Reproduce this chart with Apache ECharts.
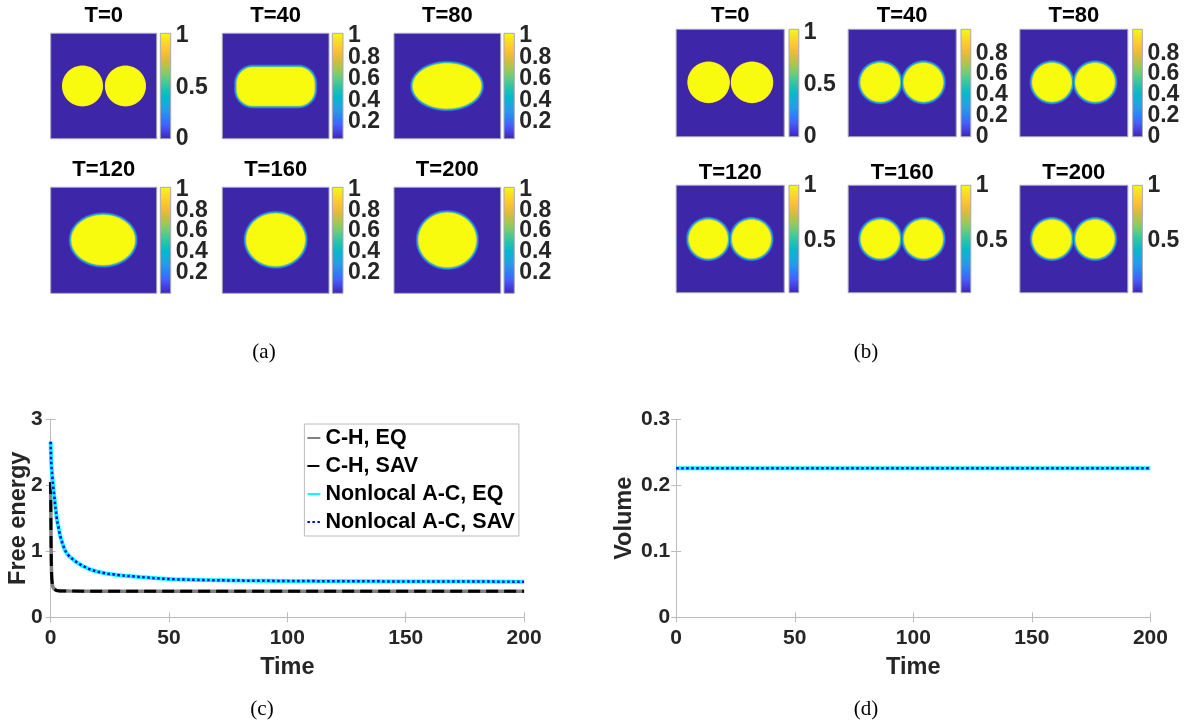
<!DOCTYPE html>
<html><head><meta charset="utf-8">
<script src="https://cdn.jsdelivr.net/npm/echarts@6/dist/echarts.min.js"></script>
<style>html,body{margin:0;padding:0;background:#fff}#c{width:1186px;height:726px}</style>
</head><body><div id="c"></div><script>
// ---------------- DATA ----------------
const panelTitles = ['T=0', 'T=40', 'T=80', 'T=120', 'T=160', 'T=200'];
// droplets per snapshot: [cx, cy, rx, ry, cornerRadius] (unit square, cornerRadius -1 = ellipse)
const dropletsA = [
  [[0.300, 0.500, 0.190, 0.190, -1], [0.705, 0.500, 0.190, 0.190, -1]],
  [[0.500, 0.495, 0.372, 0.190, 0.16]],
  [[0.497, 0.500, 0.328, 0.221, -1]],
  [[0.495, 0.503, 0.307, 0.243, -1]],
  [[0.500, 0.505, 0.283, 0.255, -1]],
  [[0.500, 0.503, 0.278, 0.264, -1]]
];
const dropletsB = [
  [[0.300, 0.506, 0.193, 0.190, -1], [0.702, 0.506, 0.193, 0.190, -1]],
  [[0.297, 0.506, 0.190, 0.188, -1], [0.697, 0.506, 0.190, 0.188, -1]],
  [[0.297, 0.506, 0.190, 0.188, -1], [0.697, 0.506, 0.190, 0.188, -1]],
  [[0.297, 0.500, 0.188, 0.188, -1], [0.697, 0.500, 0.188, 0.188, -1]],
  [[0.297, 0.500, 0.188, 0.188, -1], [0.697, 0.500, 0.188, 0.188, -1]],
  [[0.297, 0.500, 0.188, 0.188, -1], [0.697, 0.500, 0.188, 0.188, -1]]
];
const diffuseA = [false, true, true, true, true, true];
const diffuseB = [false, true, true, true, true, true];
const cbRangeA = [[0, 1.026], [0.04, 1.025], [0.04, 1.025], [0.003, 1.02], [0.003, 1.02], [0.003, 1.02]];
const cbTicksA = [[0, 0.5, 1], [0.2, 0.4, 0.6, 0.8, 1], [0.2, 0.4, 0.6, 0.8, 1], [0.2, 0.4, 0.6, 0.8, 1], [0.2, 0.4, 0.6, 0.8, 1], [0.2, 0.4, 0.6, 0.8, 1]];
const cbRangeB = [[0, 1.036], [0, 1.03], [0, 1.03], [0.024, 1.006], [0.024, 1.006], [0.024, 1.006]];
const cbTicksB = [[0, 0.5, 1], [0, 0.2, 0.4, 0.6, 0.8], [0, 0.2, 0.4, 0.6, 0.8], [0.5, 1], [0.5, 1], [0.5, 1]];

const feTime = [0, 0.2, 0.5, 1, 1.5, 2, 2.6, 3, 4, 5, 6, 7, 8, 10, 12, 14, 17, 20, 24, 30, 38, 45, 52, 65, 80, 100, 125, 150, 175, 200];
const feNonlocalEQ = [2.66, 2.40, 2.22, 2.02, 1.85, 1.68, 1.50, 1.42, 1.24, 1.12, 1.02, 0.96, 0.92, 0.86, 0.81, 0.77, 0.72, 0.69, 0.66, 0.635, 0.61, 0.59, 0.575, 0.565, 0.556, 0.55, 0.546, 0.543, 0.541, 0.54];
const feNonlocalSAV = [2.66, 2.40, 2.22, 2.02, 1.85, 1.68, 1.50, 1.42, 1.24, 1.12, 1.02, 0.96, 0.92, 0.86, 0.81, 0.77, 0.72, 0.69, 0.66, 0.635, 0.61, 0.59, 0.575, 0.565, 0.556, 0.55, 0.546, 0.543, 0.541, 0.54];
const chTime = [0, 0.1, 0.2, 0.35, 0.5, 0.8, 1.2, 1.8, 2.5, 4, 8, 20, 50, 100, 150, 200];
const chEQ = [2.05, 1.6, 1.1, 0.75, 0.58, 0.48, 0.44, 0.415, 0.405, 0.399, 0.397, 0.396, 0.395, 0.395, 0.395, 0.395];
const chSAV = [2.05, 1.6, 1.1, 0.75, 0.58, 0.48, 0.44, 0.415, 0.405, 0.399, 0.397, 0.396, 0.395, 0.395, 0.395, 0.395];
const volTime = [0, 50, 100, 150, 200];
const volNonlocalEQ = [0.226, 0.226, 0.226, 0.226, 0.226];
const volNonlocalSAV = [0.226, 0.226, 0.226, 0.226, 0.226];
const timeTicks = [0, 50, 100, 150, 200];
const legendNames = ['C-H, EQ', 'C-H, SAV', 'Nonlocal A-C, EQ', 'Nonlocal A-C, SAV'];
const captions = ['(a)', '(b)', '(c)', '(d)'];

// ---------------- STYLE / LAYOUT ----------------
const SANS = '"Liberation Sans", Arial, Helvetica, sans-serif';
const SERIF = '"Liberation Serif", "Times New Roman", serif';
const PARULA = ['#3e26a8', '#4540e2', '#4760fb', '#2f7ff5', '#2b98e6', '#16abda', '#07b9c8', '#1fc2b0', '#46c996', '#78cb72', '#a7c653', '#d1bd3e', '#f1bd38', '#fdcb2f', '#f6e123', '#f9fb0e'];
const BG = '#3e26a8', YEL = '#f9fb0e';
const DIFF_LAYERS = [{d: 2.0, c: '#3f4fe6'}, {d: 1.3, c: '#2a8ee8'}, {d: 0.6, c: '#14b3ca'}, {d: 0.0, c: '#7cca6c'}, {d: -0.6, c: '#ecd934'}, {d: -1.1, c: YEL}];
const SHARP_LAYERS = [{d: 0.4, c: '#f2d23a'}, {d: 0, c: YEL}];
const LAY = {
  A: {px: [[50.7, 156.7], [222.3, 329], [394, 500.7]], cb: [[160.3, 170.7], [332.3, 343], [504, 514.3]], py: [[33.3, 138.7], [187.3, 293.3]], ty: [16, 170]},
  B: {px: [[676.2, 784.2], [848.2, 956.2], [1019.9, 1127.8]], cb: [[789, 798.8], [961, 970.8], [1132.7, 1142.4]], py: [[29.3, 136.7], [185.3, 292.7]], ty: [16, 172.7]}
};

const grids = [], xAxes = [], yAxes = [], series = [], graphics = [];

function dropletRender(diffuse) {
  return function (params, api) {
    const c = api.coord([api.value(0), api.value(1)]);
    const s = api.size([api.value(2), api.value(3)]);
    const cr = api.value(4);
    const layers = diffuse ? DIFF_LAYERS : SHARP_LAYERS;
    const children = layers.map(function (l) {
      const a = s[0] + l.d, b = s[1] + l.d;
      if (cr < 0) return {type: 'ellipse', shape: {cx: c[0], cy: c[1], rx: a, ry: b}, style: {fill: l.c}};
      const r = api.size([cr, cr])[1] + l.d;
      return {type: 'rect', shape: {x: c[0] - a, y: c[1] - b, width: 2 * a, height: 2 * b, r: r}, style: {fill: l.c}};
    });
    return {type: 'group', children: children};
  };
}
function cbRender(params, api) {
  const p0 = api.coord([0, api.value(0)]), p1 = api.coord([1, api.value(1)]);
  return {type: 'rect', shape: {x: p0[0], y: p1[1], width: p1[0] - p0[0], height: p0[1] - p1[1]},
    style: {fill: new echarts.graphic.LinearGradient(0, 1, 0, 0, PARULA.map((col, i) => ({offset: i / (PARULA.length - 1), color: col}))), stroke: '#a9a9b6', lineWidth: 1}};
}
function cbAxis(g, range, values) {
  return {type: 'value', gridIndex: g, min: range[0], max: range[1], position: 'right', offset: 0,
    axisLine: {show: false}, axisTick: {show: false}, splitLine: {show: false},
    axisLabel: {customValues: values, hideOverlap: false, showMinLabel: true, showMaxLabel: true,
      margin: 5, padding: [4, 0, 0, 0], fontSize: 23, fontWeight: 'bold', color: '#262626', fontFamily: SANS}};
}

function addFigure(key, droplets, diffuse, ranges, ticks) {
  const L = LAY[key];
  for (let i = 0; i < 6; i++) {
    const row = Math.floor(i / 3), col = i % 3;
    const [x0, x1] = L.px[col], [y0, y1] = L.py[row], [c0, c1] = L.cb[col];
    let g = grids.length;
    grids.push({left: x0, top: y0, width: x1 - x0, height: y1 - y0, show: true, backgroundColor: BG, borderColor: '#a6a6b8', borderWidth: 1, outerBoundsMode: 'none'});
    xAxes.push({type: 'value', gridIndex: g, min: 0, max: 1, show: false});
    yAxes.push({type: 'value', gridIndex: g, min: 0, max: 1, show: false});
    series.push({type: 'custom', xAxisIndex: xAxes.length - 1, yAxisIndex: yAxes.length - 1, renderItem: dropletRender(diffuse[i]), data: droplets[i], silent: true, clip: true});
    g = grids.length;
    grids.push({left: c0, top: y0, width: c1 - c0, height: y1 - y0, outerBoundsMode: 'none'});
    xAxes.push({type: 'value', gridIndex: g, min: 0, max: 1, show: false});
    // labels split over two coincident axes so that none is thinned out
    yAxes.push(cbAxis(g, ranges[i], ticks[i].filter((v, k) => k % 2 === 0)));
    const yi = yAxes.length - 1;
    const odd = ticks[i].filter((v, k) => k % 2 === 1);
    if (odd.length) yAxes.push(cbAxis(g, ranges[i], odd));
    series.push({type: 'custom', xAxisIndex: xAxes.length - 1, yAxisIndex: yi, renderItem: cbRender, data: [ranges[i]], silent: true});
    graphics.push({type: 'text', x: (x0 + x1) / 2, y: L.ty[row], silent: true,
      style: {text: panelTitles[i], font: 'bold 22px ' + SANS, fill: '#000', align: 'center', verticalAlign: 'middle'}});
  }
}
addFigure('A', dropletsA, diffuseA, cbRangeA, cbTicksA);
addFigure('B', dropletsB, diffuseB, cbRangeB, cbTicksB);

const AX = '#bcbcbc';
function addLinePlot(left, width, yMax, yInt, yName, yNameGap, yMargin) {
  const g = grids.length;
  grids.push({left: left, top: 419.3, width: width, height: 198, outerBoundsMode: 'none'});
  const lab = {fontSize: 21, fontWeight: 'bold', color: '#262626', fontFamily: SANS, hideOverlap: false};
  const nameStyle = {fontSize: 23.5, fontWeight: 'bold', color: '#262626', fontFamily: SANS};
  const xi = xAxes.length;
  xAxes.push({type: 'value', gridIndex: g, min: 0, max: 200, interval: 50, position: 'bottom',
    axisLine: {show: true, lineStyle: {color: AX, width: 1}}, axisTick: {show: true, inside: true, length: 5, lineStyle: {color: AX}},
    axisLabel: Object.assign({margin: 10, customValues: timeTicks}, lab), splitLine: {show: false},
    name: 'Time', nameLocation: 'middle', nameGap: 38, nameMoveOverlap: false, nameTextStyle: nameStyle});
  xAxes.push({type: 'value', gridIndex: g, min: 0, max: 200, interval: 50, position: 'top',
    axisLine: {show: true, lineStyle: {color: AX, width: 1}}, axisTick: {show: true, inside: true, length: 5, lineStyle: {color: AX}},
    axisLabel: {show: false}, splitLine: {show: false}});
  const yi = yAxes.length;
  yAxes.push({type: 'value', gridIndex: g, min: 0, max: yMax, interval: yInt, position: 'left',
    axisLine: {show: true, lineStyle: {color: AX, width: 1}}, axisTick: {show: true, inside: true, length: 5, lineStyle: {color: AX}},
    axisLabel: Object.assign({margin: yMargin}, lab), splitLine: {show: false},
    name: yName, nameLocation: 'middle', nameGap: yNameGap, nameMoveOverlap: false, nameTextStyle: nameStyle});
  yAxes.push({type: 'value', gridIndex: g, min: 0, max: yMax, interval: yInt, position: 'right',
    axisLine: {show: true, lineStyle: {color: AX, width: 1}}, axisTick: {show: true, inside: true, length: 5, lineStyle: {color: AX}},
    axisLabel: {show: false}, splitLine: {show: false}});
  return {x: xi, y: yi};
}
function pairs(t, v) { return t.map((x, i) => [x, v[i]]); }
const lineBase = {type: 'line', showSymbol: false, symbol: 'none', silent: true, animation: false};
const STY = [
  {color: '#808080', width: 3.5, type: 'solid'},
  {color: '#000000', width: 3, type: [12, 6]},
  {color: '#00ffff', width: 4, type: 'solid'},
  {color: '#0000ff', width: 2.5, type: [2.5, 2.5]}
];

const c = addLinePlot(50.6, 473.5, 3, 1, 'Free energy', 20, 8);
[[chTime, chEQ], [chTime, chSAV], [feTime, feNonlocalEQ], [feTime, feNonlocalSAV]].forEach(function (d, k) {
  series.push(Object.assign({}, lineBase, {name: legendNames[k], xAxisIndex: c.x, yAxisIndex: c.y, data: pairs(d[0], d[1]),
    lineStyle: STY[k], itemStyle: {color: STY[k].color}}));
});
const d = addLinePlot(676.2, 474.2, 0.3, 0.1, 'Volume', 40, 6);
[[volTime, volNonlocalEQ], [volTime, volNonlocalSAV]].forEach(function (dd, k) {
  series.push(Object.assign({}, lineBase, {name: legendNames[k + 2], xAxisIndex: d.x, yAxisIndex: d.y, data: pairs(dd[0], dd[1]),
    lineStyle: STY[k + 2], itemStyle: {color: STY[k + 2].color}}));
});

[[264, 352], [866, 352], [262, 709], [866, 709]].forEach(function (p, i) {
  graphics.push({type: 'text', x: p[0], y: p[1], silent: true,
    style: {text: captions[i], font: '21px ' + SERIF, fill: '#000', align: 'center', verticalAlign: 'middle'}});
});

const chart = echarts.init(document.getElementById('c'), null, {renderer: 'canvas'});
chart.setOption({
  animation: false,
  backgroundColor: '#ffffff',
  grid: grids, xAxis: xAxes, yAxis: yAxes, series: series,
  legend: {data: legendNames, orient: 'vertical', left: 304.4, top: 424, itemWidth: 13, itemHeight: 14, itemGap: 6,
    padding: [3, 4, 3, 2], borderColor: '#bcbcbc', borderWidth: 1, backgroundColor: '#ffffff', selectedMode: false,
    itemStyle: {color: 'rgba(0,0,0,0)', borderWidth: 0, opacity: 0},
    textStyle: {fontSize: 21.5, lineHeight: 22, fontWeight: 'bold', color: '#000', fontFamily: SANS}},
  graphic: graphics
});
</script></body></html>
